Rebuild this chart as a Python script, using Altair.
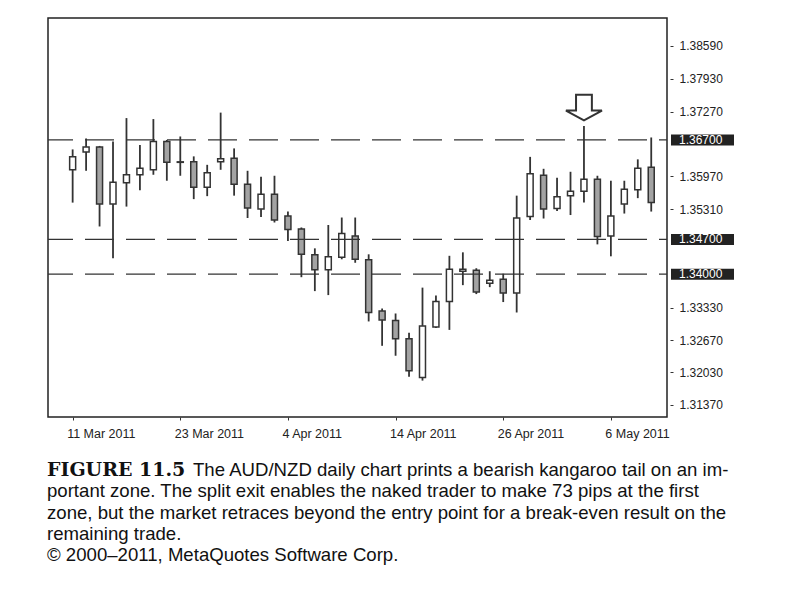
import altair as alt
import pandas as pd

# AUD/NZD daily candles
dates = [
    "11 Mar 2011", "14 Mar 2011", "15 Mar 2011", "16 Mar 2011", "17 Mar 2011",
    "18 Mar 2011", "21 Mar 2011", "22 Mar 2011", "23 Mar 2011", "24 Mar 2011",
    "25 Mar 2011", "28 Mar 2011", "29 Mar 2011", "30 Mar 2011", "31 Mar 2011",
    "1 Apr 2011", "4 Apr 2011", "5 Apr 2011", "6 Apr 2011", "7 Apr 2011",
    "8 Apr 2011", "11 Apr 2011", "12 Apr 2011", "13 Apr 2011", "14 Apr 2011",
    "15 Apr 2011", "18 Apr 2011", "19 Apr 2011", "20 Apr 2011", "21 Apr 2011",
    "22 Apr 2011", "25 Apr 2011", "26 Apr 2011", "27 Apr 2011", "28 Apr 2011",
    "29 Apr 2011", "2 May 2011", "3 May 2011", "4 May 2011", "5 May 2011",
    "6 May 2011", "9 May 2011", "10 May 2011", "11 May 2011",
]
opens = [1.3610, 1.3646, 1.3656, 1.3541, 1.3584, 1.3600, 1.3610, 1.3667, 1.3626, 1.3626,
         1.3575, 1.3626, 1.3633, 1.3581, 1.3531, 1.3561, 1.3517, 1.3491, 1.3439, 1.3409,
         1.3434, 1.3477, 1.3429, 1.3326, 1.3307, 1.3270, 1.3192, 1.3294, 1.3345, 1.3406,
         1.3408, 1.3382, 1.3390, 1.3362, 1.3516, 1.3599, 1.3532, 1.3558, 1.3567, 1.3591,
         1.3477, 1.3541, 1.3570, 1.3615]
highs = [1.3651, 1.3673, 1.3658, 1.3667, 1.3714, 1.3660, 1.3712, 1.3670, 1.3677, 1.3637,
         1.3620, 1.3725, 1.3653, 1.3608, 1.3596, 1.3598, 1.3526, 1.3494, 1.3452, 1.3499,
         1.3514, 1.3514, 1.3440, 1.3331, 1.3321, 1.3282, 1.3373, 1.3357, 1.3437, 1.3444,
         1.3412, 1.3406, 1.3401, 1.3558, 1.3636, 1.3612, 1.3594, 1.3606, 1.3698, 1.3598,
         1.3588, 1.3588, 1.3631, 1.3675]
lows = [1.3544, 1.3608, 1.3496, 1.3432, 1.3536, 1.3569, 1.3600, 1.3588, 1.3598, 1.3551,
        1.3557, 1.3610, 1.3558, 1.3513, 1.3515, 1.3504, 1.3467, 1.3394, 1.3366, 1.3358,
        1.3430, 1.3423, 1.3305, 1.3256, 1.3236, 1.3194, 1.3186, 1.3292, 1.3288, 1.3378,
        1.3360, 1.3374, 1.3344, 1.3323, 1.3509, 1.3512, 1.3527, 1.3519, 1.3544, 1.3460,
        1.3436, 1.3522, 1.3553, 1.3526]
closes = [1.3636, 1.3656, 1.3541, 1.3585, 1.3600, 1.3613, 1.3667, 1.3625, 1.3625, 1.3575,
          1.3604, 1.3632, 1.3581, 1.3533, 1.3561, 1.3509, 1.3490, 1.3440, 1.3409, 1.3435,
          1.3482, 1.3430, 1.3323, 1.3308, 1.3270, 1.3206, 1.3296, 1.3345, 1.3410, 1.3410,
          1.3364, 1.3388, 1.3362, 1.3513, 1.3602, 1.3531, 1.3556, 1.3567, 1.3591, 1.3476,
          1.3517, 1.3571, 1.3613, 1.3544]

levels = [1.3670, 1.3470, 1.3400]
price_ticks = [1.3859, 1.3793, 1.3727, 1.3597, 1.3531, 1.3333, 1.3267, 1.3203, 1.3137]
tick_labels = ["11 Mar 2011", "23 Mar 2011", "4 Apr 2011", "14 Apr 2011", "26 Apr 2011", "6 May 2011"]

arrow_date = "4 May 2011"
arrow_price = 1.3735

caption_label = "FIGURE 11.5"
caption_first = "The AUD/NZD daily chart prints a bearish kangaroo tail on an im-"
caption_lines = [
    "portant zone. The split exit enables the naked trader to make 73 pips at the first",
    "zone, but the market retraces beyond the entry point for a break-even result on the",
    "remaining trade.",
    "\u00a9 2000\u20132011, MetaQuotes Software Corp.",
]

W, H = 619, 399
AX_FONT = "Liberation Sans, Arial, Helvetica, sans-serif"
CAP_FONT = "Liberation Sans, Arial, sans-serif"
INK = "#333333"

df = pd.DataFrame({"date": dates, "open": opens, "high": highs, "low": lows, "close": closes})
df["idx"] = range(len(df))

tick_idx = [dates.index(t) for t in tick_labels]
label_expr = "{}[indexof({}, datum.value)]".format(
    "[" + ",".join("'%s'" % t for t in tick_labels) + "]",
    "[" + ",".join(str(i) for i in tick_idx) + "]",
)

x_enc = alt.X("idx:Q", title=None,
              scale=alt.Scale(domain=[-1.46, 43.8], nice=False, zero=False),
              axis=alt.Axis(values=tick_idx, labelExpr=label_expr, grid=False, domain=False,
                            tickSize=3, tickColor=INK, labelAlign="left", labelOffset=-6,
                            labelPadding=7, labelFont=AX_FONT, labelFontSize=12.5,
                            labelColor="#222222"))
y_scale = alt.Scale(domain=[1.31128, 1.39153], nice=False, zero=False)
y_axis = alt.Axis(orient="right", values=price_ticks, format=".5f", grid=False, domain=False,
                  offset=3, tickSize=3, tickColor=INK, labelPadding=6, labelFont=AX_FONT,
                  labelFontSize=12, labelColor="#222222")

base = alt.Chart(df)

wicks = base.mark_rule(color=INK, strokeWidth=1.8).encode(
    x=x_enc,
    y=alt.Y("low:Q", scale=y_scale, axis=y_axis, title=None),
    y2="high:Q",
)

bodies = base.mark_bar(size=6, stroke=INK, strokeWidth=1.5).encode(
    x="idx:Q",
    y="open:Q",
    y2="close:Q",
    fill=alt.condition("datum.close >= datum.open", alt.value("white"), alt.value("#a3a3a3")),
    tooltip=["date:N", "open:Q", "high:Q", "low:Q", "close:Q"],
)

lev_df = pd.DataFrame({"level": levels})
level_lines = alt.Chart(lev_df).mark_rule(
    color=INK, strokeWidth=1.3, strokeDash=[29, 12], strokeDashOffset=21
).encode(y="level:Q")

level_boxes = alt.Chart(lev_df).mark_rect(color="#222222", height=11).encode(
    y="level:Q", x=alt.value(W + 4), x2=alt.value(W + 67)
)
level_text = alt.Chart(lev_df).mark_text(
    align="left", baseline="middle", color="white", font=AX_FONT, fontSize=12
).encode(y="level:Q", x=alt.value(W + 12), text=alt.Text("level:Q", format=".5f"))

arrow_df = pd.DataFrame({"idx": [dates.index(arrow_date)], "price": [arrow_price]})
arrow_path = "M -0.44 -0.71 L 0.44 -0.71 L 0.44 0.16 L 1 0.16 L 0 0.71 L -1 0.16 L -0.44 0.16 Z"
arrow = alt.Chart(arrow_df).mark_point(
    shape=arrow_path, size=1296, filled=False, color=INK, strokeWidth=2, opacity=1
).encode(x="idx:Q", y="price:Q")

CAP_Y = H + 53
CAP_STEP = 21.3
captions = [
    alt.Chart(pd.DataFrame({"t": [caption_label]})).mark_text(
        align="left", baseline="middle", font="DejaVu Serif, Liberation Serif, serif",
        fontWeight="bold", fontSize=19, color="#111111"
    ).encode(text="t:N", x=alt.value(-1), y=alt.value(CAP_Y)),
    alt.Chart(pd.DataFrame({"t": [caption_first]})).mark_text(
        align="left", baseline="middle", font=CAP_FONT, fontSize=18.6, color="#111111"
    ).encode(text="t:N", x=alt.value(145), y=alt.value(CAP_Y)),
]
for i, line in enumerate(caption_lines):
    captions.append(
        alt.Chart(pd.DataFrame({"t": [line]})).mark_text(
            align="left", baseline="middle", font=CAP_FONT, fontSize=18.6, color="#111111"
        ).encode(text="t:N", x=alt.value(-1), y=alt.value(CAP_Y + CAP_STEP * (i + 1)))
    )

chart = alt.layer(
    wicks, bodies, level_lines, arrow, level_boxes, level_text, *captions
).properties(
    width=W, height=H, padding={"left": 39, "top": 10, "right": 5, "bottom": 5}
).configure_view(
    stroke="#222222", strokeWidth=1.5
)

chart.save("out.html", embed_options={"renderer": "svg", "actions": False})
